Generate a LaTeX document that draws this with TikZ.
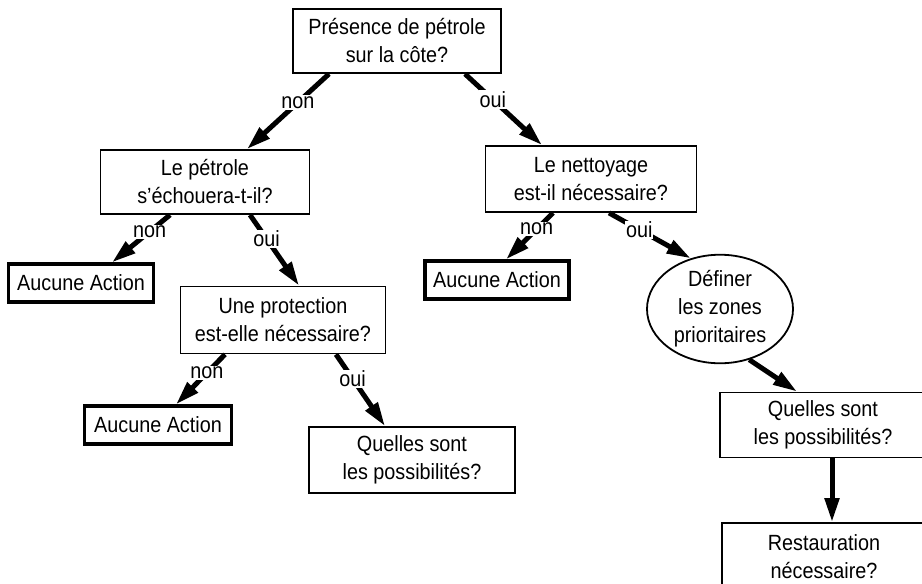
\documentclass[tikz,border=0pt]{standalone}
\usepackage{fontspec}
\setmainfont{Liberation Sans}[FakeStretch=0.9]
\usetikzlibrary{shapes.geometric,arrows.meta}

\begin{document}
\begin{tikzpicture}[x=1pt,y=-1pt,
  every node/.style={font=\fontsize{22}{28}\selectfont},
  question/.style={rectangle,draw,line width=1.8pt,align=center,inner sep=0pt},
  noaction/.style={rectangle,draw,line width=3.2pt,inner sep=0pt,minimum height=38pt},
  answer/.style={fill=white,inner sep=1pt},
  branch/.style={line width=5pt,-{Triangle[length=24pt,width=14pt]}}]
\useasboundingbox (0,0) rectangle (922,584);
\node [question,minimum width=208pt,minimum height=64pt] (spill) at (397,41) {Présence de pétrole\\sur la côte?};
\node [question,minimum width=209pt,minimum height=64pt] (ashore) at (205,182) {Le pétrole\\s'échouera-t-il?};
\node [question,minimum width=211pt,minimum height=66pt] (cleanup) at (591,179) {Le nettoyage\\est-il nécessaire?};
\node [noaction,minimum width=145pt] (none1) at (81,283) {Aucune Action};
\node [noaction,minimum width=144pt] (none2) at (497,280) {Aucune Action};
\node [ellipse,draw,line width=1.8pt,minimum width=146pt,minimum height=82pt,inner sep=0pt,align=center] (zones) at (720,309) {Définer\\les zones\\prioritaires};
\node [question,minimum width=205pt,minimum height=67pt] (protect) at (283,320) {Une protection\\est-elle nécessaire?};
\node [noaction,minimum width=147pt] (none3) at (158,425) {Aucune Action};
\node [question,minimum width=206pt,minimum height=66pt] (options1) at (412,460) {Quelles sont\\les possibilités?};
\node [question,minimum width=206pt,minimum height=65pt] (options2) at (823,425) {Quelles sont\\les possibilités?};
\node [question,minimum width=204pt,minimum height=68pt] (restore) at (824,557) {Restauration\\nécessaire?};

\draw [branch] ([xshift=-68pt]spill.south) -- node [answer,pos=0.38] {non} ([xshift=42pt]ashore.north);
\draw [branch] ([xshift=68pt]spill.south) -- node [answer,pos=0.36] {oui} ([xshift=-49pt]cleanup.north);
\draw [branch] ([xshift=-35pt]ashore.south) -- node [answer,pos=0.35] {non} ([xshift=31pt]none1.north);
\draw [branch] ([xshift=45pt]ashore.south) -- node [answer,pos=0.34] {oui} ([xshift=16pt]protect.north);
\draw [branch] ([xshift=-38pt]cleanup.south) -- node [answer,pos=0.35] {non} ([xshift=9pt]none2.north);
\draw [branch] ([xshift=18pt]cleanup.south) -- node [answer,pos=0.37] {oui} (zones.120);
\draw [branch] ([xshift=-58pt]protect.south) -- node [answer,pos=0.37] {non} ([xshift=18pt]none3.north);
\draw [branch] ([xshift=53pt]protect.south) -- node [answer,pos=0.34] {oui} ([xshift=-27pt]options1.north);
\draw [branch] (zones.-60) -- ([xshift=-26pt]options2.north);
\draw [branch] ([xshift=9pt]options2.south) -- ([xshift=8pt]restore.north);
\end{tikzpicture}
\end{document}
